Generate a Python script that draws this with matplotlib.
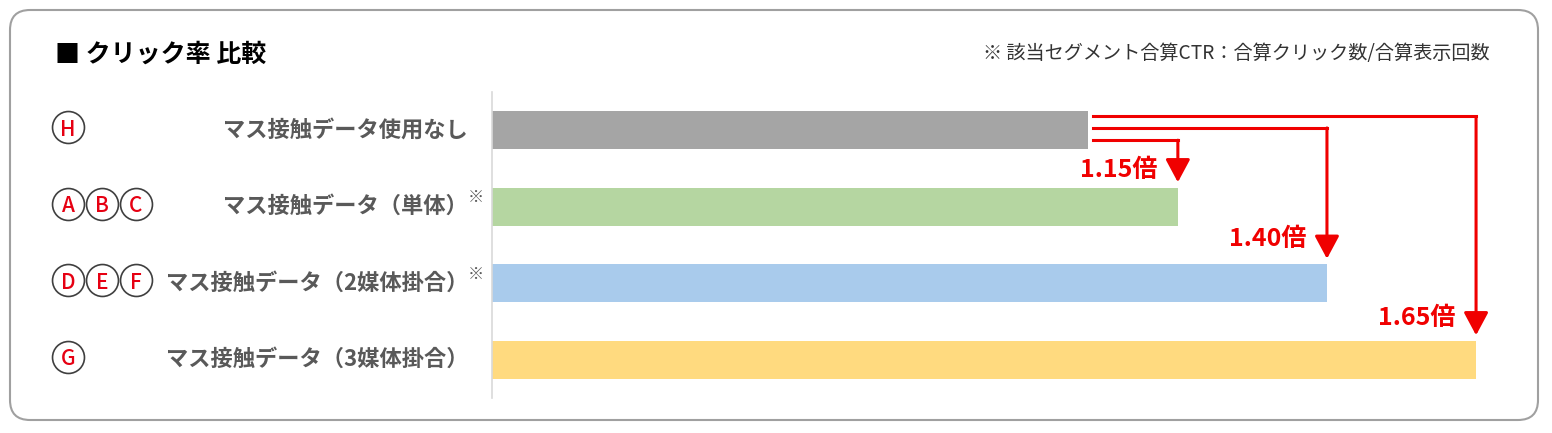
import matplotlib
matplotlib.use('Agg')
import matplotlib.pyplot as plt
from matplotlib.patches import FancyBboxPatch
from matplotlib.transforms import IdentityTransform, blended_transform_factory

plt.rcParams['font.family'] = ['Noto Sans CJK JP', 'DejaVu Sans']

# ---------------- data ----------------
categories = ['マス接触データ使用なし', 'マス接触データ（単体）',
              'マス接触データ（2媒体掛合）', 'マス接触データ（3媒体掛合）']
ctr_ratio = [1.00, 1.15, 1.40, 1.65]
ratio_labels = ['', '1.15倍', '1.40倍', '1.65倍']
has_note = [False, True, True, False]
segments = [['H'], ['A', 'B', 'C'], ['D', 'E', 'F'], ['G']]
bar_colors = ['#A5A5A5', '#B5D6A1', '#A9CBEC', '#FFDA7F']
title = '■ クリック率 比較'
note = '※ 該当セグメント合算CTR：合算クリック数/合算表示回数'

# ---------------- layout ----------------
W, H = 1552, 433
fig = plt.figure(figsize=(W / 100, H / 100), dpi=100)
px_per_unit = 596.4
ax_left, ax_top, ax_bottom = 492, 92, 398
xmax = 1.72
ax = fig.add_axes([ax_left / W, 1 - ax_bottom / H,
                   xmax * px_per_unit / W, (ax_bottom - ax_top) / H])
ax.patch.set_alpha(0)

ypos = list(range(len(categories)))
ax.barh(ypos, ctr_ratio, height=0.5, color=bar_colors)
ax.set_xlim(0, xmax)
ax.set_ylim(len(categories) - 0.5, -0.5)
for s in ['top', 'right', 'bottom']:
    ax.spines[s].set_visible(False)
ax.spines['left'].set_color('#D9D9D9')
ax.spines['left'].set_linewidth(1.2)
ax.set_xticks([])
ax.set_yticks([])

red = '#F00000'
label_gray = '#595959'
tr = blended_transform_factory(fig.transFigure, ax.transData)

# category labels + notes
for i, cat in enumerate(categories):
    ax.text(468 / W, i, cat, transform=tr, ha='right', va='center',
            fontsize=16, fontweight='bold', color=label_gray)
    if has_note[i]:
        ax.text(468 / W, i - 0.12, '※', transform=tr, ha='left', va='center',
                fontsize=11.5, color=label_gray)

# circled segment letters
for i, letters in enumerate(segments):
    for j, L in enumerate(letters):
        cx = (68 + 34 * j) / W
        cy = i - 0.04
        ax.plot([cx], [cy], 'o', ms=23, mfc='white', mec='#3F3F3F', mew=1.2,
                transform=tr, clip_on=False)
        ax.text(cx, cy + 0.035, L, transform=tr, ha='center', va='center',
                fontsize=15, color='#E60012', fontweight='medium')

# arrows from baseline bar
base = ctr_ratio[0]
h_offsets = [0, 0.13, -0.03, -0.18]
label_dy = [0, -0.48, -0.58, -0.55]
for i in range(1, len(ctr_ratio)):
    yh = 0 + h_offsets[i]
    x0 = base + 0.008
    xt = ctr_ratio[i]
    ytip = i - 0.25 - 0.07
    ax.plot([x0, xt], [yh, yh], color=red, lw=2.2, solid_capstyle='projecting',
            clip_on=False)
    ax.annotate('', xy=(xt, ytip), xytext=(xt, yh),
                arrowprops=dict(arrowstyle='-|>,head_length=1.4,head_width=0.75',
                                mutation_scale=10, color=red, lw=2.2,
                                shrinkA=0, shrinkB=0))
    ax.annotate(ratio_labels[i], xy=(xt, i + label_dy[i]), xytext=(-15, 0),
                textcoords='offset points', ha='right', va='center',
                color=red, fontsize=18, fontweight='bold')

# title and note
fig.text(55 / W, 1 - 55 / H, title, fontsize=18, fontweight='bold',
         va='center', ha='left', color='black')
fig.text(1490 / W, 1 - 53 / H, note, fontsize=13.8, va='center', ha='right',
         color='#333333')

# rounded border
border = FancyBboxPatch((10, 13), 1528, 410,
                        boxstyle='round,pad=0,rounding_size=20',
                        transform=IdentityTransform(), facecolor='none',
                        edgecolor='#A0A0A0', lw=1.5)
fig.add_artist(border)

fig.savefig('out.png', dpi=100)
